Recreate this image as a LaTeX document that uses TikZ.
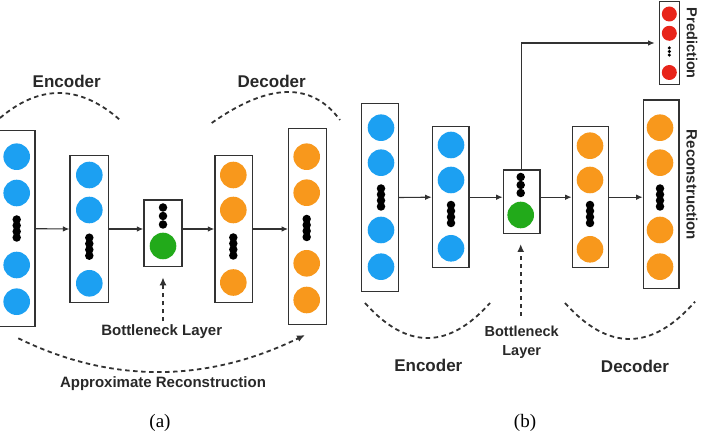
\documentclass[tikz,border=0pt]{standalone}
\usepackage{fontspec}
\setsansfont{Liberation Sans}
\setmainfont{Liberation Serif}
\usetikzlibrary{arrows.meta}
\definecolor{ublue}{RGB}{28,160,242}
\definecolor{uorange}{RGB}{248,152,28}
\definecolor{ugreen}{RGB}{34,170,26}
\definecolor{ured}{RGB}{232,36,26}
\definecolor{boxgray}{RGB}{50,50,50}
\definecolor{txt}{RGB}{40,40,40}
\newcommand\mydotcol[6]{%
  \foreach \i in {1,...,#4}{\node[dot,minimum size=#6] (#1-\i) at (#2,{#3+(\i-(#4+1)/2)*#5}) {};}}
\begin{document}
\begin{tikzpicture}[x=1pt,y=-1pt,
  layer/.style={draw=boxgray,line width=1.3pt,fill=white,inner sep=0pt},
  unit/.style={circle,inner sep=0pt,minimum size=26.6pt,fill=#1},
  punit/.style={circle,inner sep=0pt,minimum size=15pt,fill=ured},
  dot/.style={circle,inner sep=0pt,fill=black},
  conn/.style={draw=boxgray,line width=1.1pt,-{Latex[length=6.5pt,width=5.5pt]}},
  dashc/.style={draw=boxgray,line width=1.8pt,dash pattern=on 4.5pt off 3.5pt},
  dasharr/.style={dashc,-{Latex[length=8pt,width=7pt]}},
  lblbig/.style={font=\sffamily\bfseries\fontsize{17}{20}\selectfont,text=txt,inner sep=0pt},
  lblmid/.style={font=\sffamily\bfseries\fontsize{14.5}{18.5}\selectfont,text=txt,inner sep=0pt,align=center},
  captext/.style={font=\rmfamily\fontsize{19}{22}\selectfont,text=black,inner sep=0pt}]
\clip (0,0) rectangle (706,435);
% ---------------- panel (a) ----------------
\node[layer,minimum width=38pt,minimum height=196pt] (A1) at (16,228.7) {};
\node[layer,minimum width=38.3pt,minimum height=146.6pt] (A2) at (89.2,229) {};
\node[layer,minimum width=38pt,minimum height=66.7pt] (A3) at (163,233.3) {};
\node[layer,minimum width=37.7pt,minimum height=146.6pt] (A4) at (233.8,229) {};
\node[layer,minimum width=38pt,minimum height=196pt] (A5) at (307.7,226.3) {};
% units
\node[unit=ublue] (A1u1) at (16.7,156.7) {};
\node[unit=ublue] (A1u2) at (16.7,193) {};
\node[unit=ublue] (A1u3) at (16.7,265) {};
\node[unit=ublue] (A1u4) at (16.7,301.7) {};
\mydotcol{A1d}{16.7}{228.5}{4}{6}{8.5pt}
\node[unit=ublue] (A2u1) at (89.3,175) {};
\node[unit=ublue] (A2u2) at (89.3,210) {};
\node[unit=ublue] (A2u3) at (89.3,283.3) {};
\mydotcol{A2d}{89.3}{246.7}{4}{6}{8.5pt}
\mydotcol{A3d}{163}{216}{3}{8.5}{8.5pt}
\node[unit=ugreen] (A3u1) at (163,246) {};
\node[unit=uorange] (A4u1) at (233.3,175) {};
\node[unit=uorange] (A4u2) at (233.3,210) {};
\node[unit=uorange] (A4u3) at (233.3,282.5) {};
\mydotcol{A4d}{233.3}{246.5}{4}{6}{8.5pt}
\node[unit=uorange] (A5u1) at (306.7,156.7) {};
\node[unit=uorange] (A5u2) at (306.7,192.7) {};
\node[unit=uorange] (A5u3) at (306.7,263.3) {};
\node[unit=uorange] (A5u4) at (306.7,300) {};
\mydotcol{A5d}{306.7}{228}{4}{6}{8.5pt}
% connectors
\draw[conn] (A1.east) -- (A2.west);
\draw[conn] (A2.east) -- (A2.east -| A3.west);
\draw[conn] (A2.east -| A3.east) -- (A4.west);
\draw[conn] (A4.east) -- (A4.east -| A5.west);
% labels
\node[lblbig] (encA) at (66.7,81.7) {Encoder};
\node[lblbig] (decA) at (271.7,81.7) {Decoder};
\node[lblmid,font=\sffamily\bfseries\fontsize{15}{18}\selectfont] (botA) at (161.7,331.5) {Bottleneck Layer};
\node[lblmid,font=\sffamily\bfseries\fontsize{15}{18}\selectfont] (aprA) at (163,383.3) {Approximate Reconstruction};
\coordinate (encAs) at (0,118);
\coordinate (encAe) at (120,120);
\coordinate (decAs) at (211.7,123);
\coordinate (decAe) at (340,120);
\coordinate (aprAs) at (18.3,338.3);
\coordinate (aprAe) at (305,335);
\draw[dashc] (encAs) .. controls (40,84) and (80,84.7) .. (encAe);
\draw[dashc] (decAs) .. controls (268.9,82.7) and (311.7,81.7) .. (decAe);
\draw[dasharr] (aprAs) .. controls (111.6,383.9) and (207.2,382.8) .. (aprAe);
\draw[dasharr] ([yshift=3pt]botA.north -| A3.south) -- ([yshift=-10pt]A3.south);
\node[captext] (capA) at (160,423) {(a)};
% ---------------- panel (b) ----------------
\node[layer,minimum width=36.6pt,minimum height=188.4pt] (B1) at (380,197.5) {};
\node[layer,minimum width=36.7pt,minimum height=141pt] (B2) at (450.7,197.2) {};
\node[layer,minimum width=36.7pt,minimum height=63.3pt] (B3) at (521.7,201.7) {};
\node[layer,minimum width=36pt,minimum height=141pt] (B4) at (590.3,197.2) {};
\node[layer,minimum width=35.7pt,minimum height=188.3pt] (B5) at (661.2,194.2) {};
\node[layer,minimum width=20pt,minimum height=82.6pt] (P) at (669.3,43) {};
\node[unit=ublue] (B1u1) at (381,127.7) {};
\node[unit=ublue] (B1u2) at (381,162.7) {};
\node[unit=ublue] (B1u3) at (381,230) {};
\node[unit=ublue] (B1u4) at (381,266.7) {};
\mydotcol{B1d}{381}{197.5}{4}{6}{8.5pt}
\node[unit=ublue] (B2u1) at (451,145) {};
\node[unit=ublue] (B2u2) at (451,180) {};
\node[unit=ublue] (B2u3) at (451,248.3) {};
\mydotcol{B2d}{451}{214}{4}{6}{8.5pt}
\mydotcol{B3d}{520.7}{185}{3}{8}{8.5pt}
\node[unit=ugreen] (B3u1) at (520.7,215) {};
\node[unit=uorange] (B4u1) at (590,145.7) {};
\node[unit=uorange] (B4u2) at (590,180) {};
\node[unit=uorange] (B4u3) at (590,249.3) {};
\mydotcol{B4d}{590}{214}{4}{6}{8.5pt}
\node[unit=uorange] (B5u1) at (660,127.7) {};
\node[unit=uorange] (B5u2) at (660,162.7) {};
\node[unit=uorange] (B5u3) at (660,230) {};
\node[unit=uorange] (B5u4) at (660,266.7) {};
\mydotcol{B5d}{660}{197.5}{4}{6}{8.5pt}
\node[punit] (Pu1) at (669.3,14) {};
\node[punit] (Pu2) at (669.3,33.3) {};
\node[punit] (Pu3) at (669.3,72.5) {};
\mydotcol{Pd}{669.3}{51.5}{3}{3.6}{3.4pt}
% connectors
\draw[conn] (B1.east) -- (B2.west);
\draw[conn] (B2.east) -- (B2.east -| B3.west);
\draw[conn] (B2.east -| B3.east) -- (B4.west);
\draw[conn] (B4.east) -- (B4.east -| B5.west);
\draw[conn,shorten >=4pt] (B3.north) |- (P.west);
% labels
\node[lblbig] (encB) at (428.3,365.7) {Encoder};
\node[lblbig] (decB) at (635,366.7) {Decoder};
\node[lblmid] (botB) at (521.7,342.3) {Bottleneck\\Layer};
\node[lblmid,rotate=-90] (preB) at (692,43.3) {Prediction};
\node[lblmid,rotate=-90,font=\sffamily\bfseries\fontsize{15}{18}\selectfont] (recB) at (692,185) {Reconstruction};
\coordinate (encBs) at (365,303);
\coordinate (encBe) at (490,303);
\coordinate (decBs) at (565,303);
\coordinate (decBe) at (695,301.7);
\draw[dashc] (encBs) .. controls (406.7,349.7) and (448.3,349.7) .. (encBe);
\draw[dashc] (decBs) .. controls (608.3,351.4) and (651.7,351) .. (decBe);
\draw[dasharr] ([yshift=10pt]botB.north -| B3u1) -- ([yshift=-10pt]B3.south -| B3u1);
\node[captext] (capB) at (525,423) {(b)};
\end{tikzpicture}
\end{document}
